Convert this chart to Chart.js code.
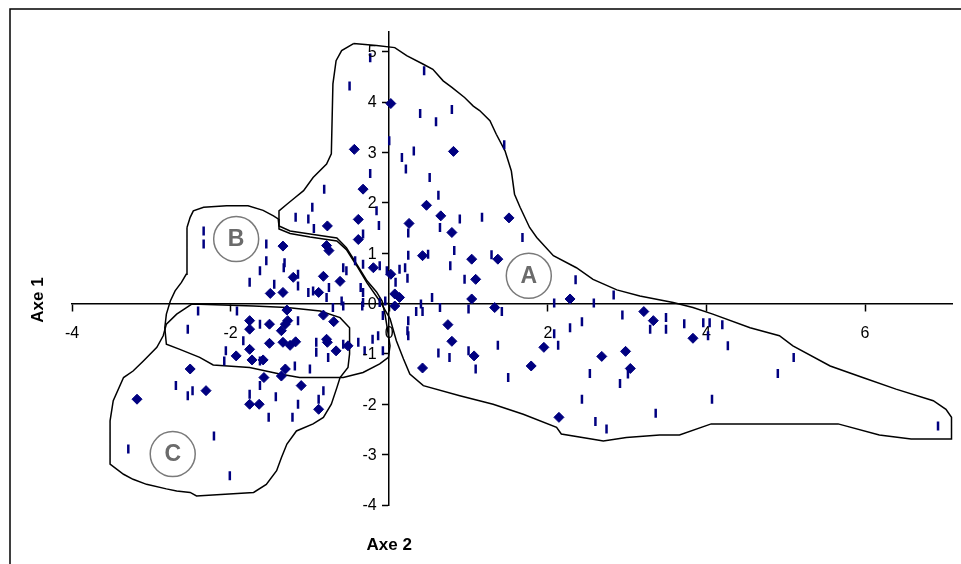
<!DOCTYPE html>
<html>
<head>
<meta charset="utf-8">
<title>Axe 1 / Axe 2</title>
<script src="https://cdn.jsdelivr.net/npm/chart.js"></script>
<style>
    html, body { margin: 0; padding: 0; background: #fff; }
    #wrap { width: 961px; height: 564px; position: relative; overflow: hidden; }
</style>
</head>
<body>
<div id="wrap"><canvas id="chart" width="961" height="564"></canvas></div>
<script>
// axis ranges and ticks
const xRange = [-4, 7.1];
const yRange = [-4, 5.4];
const xTicks = [-4, -2, 0, 2, 4, 6];
const yTicks = [-4, -3, -2, -1, 0, 1, 2, 3, 4, 5];
const xTitle = 'Axe 2';
const yTitle = 'Axe 1';

// diamond markers [x, y]
const diamonds = [
    [0.02, 3.97], [-0.44, 3.06], [0.81, 3.02], [-0.33, 2.27], [0.47, 1.95], [0.65, 1.74],
    [0.25, 1.59], [-0.78, 1.54], [-0.39, 1.67], [0.79, 1.41], [-0.39, 1.27], [-1.34, 1.14],
    [-0.79, 1.15], [-0.76, 1.05], [0.42, 0.95], [1.04, 0.88], [-0.2, 0.71], [0.02, 0.58],
    [-1.21, 0.52], [-0.83, 0.54], [-0.62, 0.44], [1.09, 0.48], [1.51, 1.70], [1.37, 0.88],
    [-1.5, 0.2], [-1.34, 0.22], [-0.89, 0.22], [0.07, 0.19], [0.07, -0.05], [-1.29, -0.13],
    [0.13, 0.12], [1.04, 0.09], [1.33, -0.08], [0.74, -0.42], [0.79, -0.75], [1.07, -1.04],
    [0.42, -1.28], [1.95, -0.87], [1.79, -1.24], [2.28, 0.09], [3.21, -0.16], [3.33, -0.34],
    [3.83, -0.69], [2.68, -1.05], [2.98, -0.95], [3.04, -1.29], [2.14, -2.26],
    [-1.76, -0.34], [-1.51, -0.41], [-1.76, -0.51], [-1.31, -0.41], [-1.34, -0.77], [-1.51, -0.79],
    [-1.76, -0.91], [-1.93, -1.04], [-1.73, -1.12], [-1.59, -1.12], [-2.51, -1.30], [-1.58, -1.47],
    [-1.31, -1.30], [-2.31, -1.73], [-1.76, -2.0], [-1.64, -2.0], [-3.18, -1.90], [-1.11, -1.63],
    [-0.89, -2.10], [-1.36, -1.44], [-1.25, -0.83], [-1.18, -0.76], [-0.79, -0.71], [-0.70, -0.36],
    [-0.83, -0.23], [-1.28, -0.34], [-1.36, -0.54], [-0.52, -0.84], [-0.67, -0.94], [-0.78, -0.77]
];

// short vertical dash markers [x, y]
const dashes = [
    [-0.24, 4.88], [-0.5, 4.32], [0.44, 4.62], [0.39, 3.77], [0.59, 3.61], [0.79, 3.85], [0.0, 3.23],
    [0.31, 3.03], [0.16, 2.9], [0.21, 2.67], [0.51, 2.5], [0.62, 2.15], [1.45, 3.15], [0.89, 1.68],
    [1.17, 1.71], [0.24, 1.40], [0.64, 1.51], [1.68, 1.31], [0.24, 0.96], [0.49, 0.98], [0.82, 1.05],
    [1.29, 0.97], [-0.24, 2.58], [-0.82, 2.27], [-0.97, 1.91], [-1.18, 1.71], [-1.02, 1.68],
    [-0.95, 1.49], [-0.16, 1.84], [-0.13, 1.55], [-0.33, 1.38], [-2.34, 1.44], [-2.34, 1.18],
    [-1.55, 1.18], [-1.55, 0.85], [-0.43, 0.85], [-0.33, 0.78], [0.77, 0.75], [0.13, 0.68],
    [0.2, 0.71], [0.23, 0.50], [-0.12, 0.75], [-0.54, 0.65], [-1.33, 0.71], [-1.76, 0.42],
    [-1.45, 0.38], [0.95, 0.48], [-1.63, 0.65], [-2.41, -0.15], [-1.92, -0.15], [-1.15, 0.58],
    [-1.15, 0.35], [-1.02, 0.22], [-0.96, 0.25], [-0.76, 0.32], [-0.58, 0.71], [-0.36, 0.32],
    [-0.33, 0.22], [-0.6, 0.05], [-0.33, 0.02], [-0.12, 0.02], [-0.05, 0.05], [-0.03, 0.65],
    [-0.79, 0.12], [-1.32, 0.81], [0.08, 0.42], [0.54, 0.12], [0.40, -0.01], [0.34, -0.16],
    [0.42, -0.16], [0.64, -0.08], [1.0, -0.11], [1.42, -0.16], [0.24, -0.34], [0.24, -0.64],
    [0.62, -0.98], [0.76, -1.07], [1.0, -0.94], [1.09, -1.30], [1.37, -0.83], [1.5, -1.47],
    [2.35, 0.47], [2.83, 0.17], [2.08, 0.01], [2.58, 0.01], [2.28, -0.48], [2.43, -0.36],
    [2.08, -0.6], [2.13, -0.83], [2.94, -0.23], [3.29, -0.51], [3.49, -0.28], [3.49, -0.51],
    [3.72, -0.40], [3.96, -0.38], [4.04, -0.38], [4.02, -0.64], [4.2, -0.42], [4.27, -0.84],
    [2.53, -1.39], [2.91, -1.59], [3.01, -1.40], [2.43, -1.90], [4.07, -1.90], [3.36, -2.18],
    [2.6, -2.34], [2.74, -2.49], [5.1, -1.07], [4.9, -1.39], [6.92, -2.43],
    [-2.54, -0.51], [-1.63, -0.41], [-1.84, -0.74], [-2.06, -0.94], [-2.08, -1.14], [-1.63, -1.14],
    [-2.69, -1.63], [-2.54, -1.83], [-2.48, -1.73], [-1.76, -1.80], [-1.63, -1.63], [-1.43, -1.85],
    [-1.52, -2.26], [-3.29, -2.89], [-2.21, -2.63], [-2.01, -3.42], [-1.22, -2.26], [-1.15, -2.0],
    [-0.83, -1.73], [-0.89, -1.90], [-0.92, -0.97], [-0.77, -1.07], [-0.39, -0.77], [-0.31, -0.94],
    [-0.21, -0.71], [-0.14, -0.64], [-0.08, -0.94], [-0.58, -0.81], [-1.0, -1.30], [-1.15, -0.34],
    [-0.71, -0.08], [-0.58, -0.05], [-0.34, -0.05], [-0.92, -0.77], [-0.08, -0.24], [0.23, -0.54],
    [-1.19, -1.24]
];

// group outlines (closed curves) [x, y]
const outlineA = [
    [-0.45, 5.16], [-0.16, 5.12], [0.07, 5.08], [0.22, 4.92], [0.43, 4.75], [0.55, 4.65],
    [0.68, 4.42], [0.79, 4.29], [0.95, 4.09], [1.06, 3.92], [1.14, 3.83], [1.27, 3.63],
    [1.35, 3.36], [1.46, 3.03], [1.54, 2.63], [1.58, 2.17], [1.65, 1.91], [1.77, 1.51],
    [1.86, 1.31], [2.07, 0.95], [2.36, 0.71], [2.57, 0.48], [2.87, 0.27], [3.16, 0.15],
    [3.58, 0.02], [3.83, -0.08], [4.08, -0.21], [4.55, -0.48], [4.92, -0.64], [5.09, -0.84],
    [5.56, -1.24], [5.97, -1.47], [6.39, -1.70], [6.86, -1.93], [7.02, -2.10], [7.09, -2.26],
    [7.09, -2.69], [6.58, -2.69], [6.18, -2.61], [5.66, -2.39], [4.06, -2.39], [3.66, -2.61],
    [3.41, -2.61], [2.99, -2.66], [2.70, -2.73], [2.55, -2.69], [2.17, -2.59], [2.11, -2.46],
    [1.69, -2.20], [1.31, -2.00], [0.89, -1.83], [0.43, -1.63], [0.26, -1.40], [0.18, -1.10],
    [0.09, -0.74], [0.01, -0.30], [-0.12, 0.05], [-0.28, 0.41], [-0.41, 0.75], [-0.54, 1.07],
    [-0.66, 1.24], [-1.00, 1.32], [-1.25, 1.39], [-1.39, 1.48], [-1.39, 1.84], [-1.29, 1.97],
    [-1.19, 2.10], [-1.08, 2.24], [-0.96, 2.50], [-0.79, 2.77], [-0.73, 2.97], [-0.71, 4.36],
    [-0.67, 4.82], [-0.60, 5.02], [-0.45, 5.16]
];
const outlineB = [
    [-2.55, 1.51], [-2.51, 1.71], [-2.47, 1.84], [-2.34, 1.91], [-2.05, 1.94], [-1.78, 1.94],
    [-1.59, 1.85], [-1.46, 1.74], [-1.40, 1.68], [-1.39, 1.54], [-1.25, 1.44], [-1.00, 1.38],
    [-0.66, 1.30], [-0.54, 1.11], [-0.41, 0.78], [-0.28, 0.45], [-0.16, 0.23], [-0.09, 0.05],
    [-0.05, -0.24], [-0.02, -0.54], [0.01, -0.84], [-0.01, -1.07], [-0.12, -1.20], [-0.33, -1.37],
    [-0.58, -1.47], [-1.13, -1.47], [-1.38, -1.40], [-1.76, -1.27], [-2.22, -1.22], [-2.39, -1.07],
    [-2.64, -0.91], [-2.81, -0.81], [-2.83, -0.48], [-2.81, -0.21], [-2.76, 0.05], [-2.70, 0.25],
    [-2.62, 0.42], [-2.56, 0.58], [-2.55, 0.85], [-2.55, 1.51]
];
const outlineC = [
    [-2.49, -0.01], [-1.71, -0.05], [-1.29, -0.08], [-0.87, -0.15], [-0.62, -0.28], [-0.50, -0.48],
    [-0.50, -1.00], [-0.52, -1.27], [-0.62, -1.47], [-0.66, -1.67], [-0.73, -2.00], [-0.83, -2.26],
    [-0.96, -2.39], [-1.17, -2.53], [-1.29, -2.79], [-1.36, -3.06], [-1.42, -3.32], [-1.55, -3.59],
    [-1.71, -3.75], [-2.43, -3.82], [-2.51, -3.75], [-2.68, -3.72], [-2.81, -3.68], [-3.06, -3.59],
    [-3.23, -3.49], [-3.35, -3.39], [-3.52, -3.19], [-3.52, -2.33], [-3.48, -1.93], [-3.35, -1.47],
    [-3.23, -1.34], [-3.10, -1.14], [-2.93, -0.87], [-2.85, -0.64], [-2.81, -0.41], [-2.68, -0.21],
    [-2.49, -0.01]
];

// group labels
const groupNames = ['A', 'B', 'C'];
const groupLabelX = [1.76, -1.93, -2.73];
const groupLabelY = [0.55, 1.28, -2.99];

const NAVY = '#000080';
const FONT = '"Liberation Sans", Arial, sans-serif';

function toPoints(pairs) {
    return pairs.map(p => ({ x: p[0], y: p[1] }));
}

function outlineDataset(pairs) {
    return {
        type: 'scatter',
        data: toPoints(pairs),
        showLine: true,
        borderColor: '#000',
        borderWidth: 1.5,
        pointRadius: 0,
        tension: 0,
        fill: false,
        clip: false,
    };
}

// frame, axis titles, y tick labels and group letters
const decorations = {
    id: 'decorations',
    beforeDraw(chart) {
        const ctx = chart.ctx;
        ctx.save();
        ctx.fillStyle = '#fff';
        ctx.fillRect(0, 0, chart.width, chart.height);
        ctx.strokeStyle = '#000';
        ctx.lineWidth = 1.5;
        ctx.strokeRect(10, 9, 1200, 900);
        ctx.restore();
    },
    afterDraw(chart) {
        const ctx = chart.ctx;
        const xs = chart.scales.x;
        const ys = chart.scales.y;

        // y tick labels sit left of the crossing axis (Chart.js puts them on the line)
        ctx.save();
        ctx.fillStyle = '#000';
        ctx.font = '16px ' + FONT;
        ctx.textAlign = 'right';
        ctx.textBaseline = 'middle';
        const yLabelX = xs.getPixelForValue(0) - 12.5;
        yTicks.forEach(v => {
            ctx.fillText(String(v), yLabelX, ys.getPixelForValue(v) + 1);
        });
        ctx.restore();

        ctx.save();
        ctx.fillStyle = '#000';
        ctx.font = 'bold 17px ' + FONT;
        ctx.textAlign = 'center';
        ctx.textBaseline = 'middle';
        ctx.fillText(xTitle, xs.getPixelForValue(0), 545);
        ctx.translate(38, 300);
        ctx.rotate(-Math.PI / 2);
        ctx.fillText(yTitle, 0, 0);
        ctx.restore();

        ctx.save();
        ctx.fillStyle = '#6b6b6b';
        ctx.font = 'bold 23px ' + FONT;
        ctx.textAlign = 'center';
        ctx.textBaseline = 'middle';
        groupNames.forEach((name, i) => {
            ctx.fillText(name, xs.getPixelForValue(groupLabelX[i]), ys.getPixelForValue(groupLabelY[i]) + 1);
        });
        ctx.restore();
    }
};

new Chart(document.getElementById('chart'), {
    type: 'scatter',
    data: {
        datasets: [
            {
                data: toPoints(dashes),
                pointStyle: 'line',
                rotation: 90,
                radius: 4.5,
                borderColor: NAVY,
                borderWidth: 2.5,
                backgroundColor: NAVY,
            },
            {
                data: toPoints(diamonds),
                pointStyle: 'rectRot',
                radius: 5,
                borderColor: NAVY,
                borderWidth: 1,
                backgroundColor: NAVY,
            },
            outlineDataset(outlineA),
            outlineDataset(outlineB),
            outlineDataset(outlineC),
            {
                data: groupNames.map((n, i) => ({ x: groupLabelX[i], y: groupLabelY[i] })),
                pointStyle: 'circle',
                radius: 22.5,
                borderColor: '#7a7a7a',
                borderWidth: 1.5,
                backgroundColor: 'rgba(255,255,255,0)',
            }
        ]
    },
    options: {
        responsive: false,
        animation: false,
        events: [],
        // plot area placed like the original figure
        layout: { autoPadding: false, padding: { left: 72, right: 8.7, top: 31.5, bottom: 59 } },
        plugins: {
            legend: { display: false },
            tooltip: { enabled: false },
        },
        scales: {
            x: {
                type: 'linear',
                min: xRange[0],
                max: xRange[1],
                position: { y: 0 },
                afterBuildTicks: (scale) => { scale.ticks = xTicks.map(v => ({ value: v })); },
                // axis crosses inside the plot, so it takes no layout space
                afterFit: (scale) => { scale.height = 0; },
                grid: { drawOnChartArea: false, drawTicks: true, tickLength: 7, tickColor: '#000', tickWidth: 1.5 },
                border: { display: true, color: '#000', width: 1.5 },
                ticks: { color: '#000', font: { family: FONT, size: 16 }, padding: 13, maxRotation: 0 },
            },
            y: {
                type: 'linear',
                min: yRange[0],
                max: yRange[1],
                position: { x: 0 },
                afterBuildTicks: (scale) => { scale.ticks = yTicks.map(v => ({ value: v })); },
                afterFit: (scale) => { scale.width = 0; },
                grid: { drawOnChartArea: false, drawTicks: true, tickLength: 6, tickColor: '#000', tickWidth: 1.5 },
                border: { display: true, color: '#000', width: 1.5 },
                ticks: { display: false },
            }
        }
    },
    plugins: [decorations]
});
</script>
</body>
</html>
